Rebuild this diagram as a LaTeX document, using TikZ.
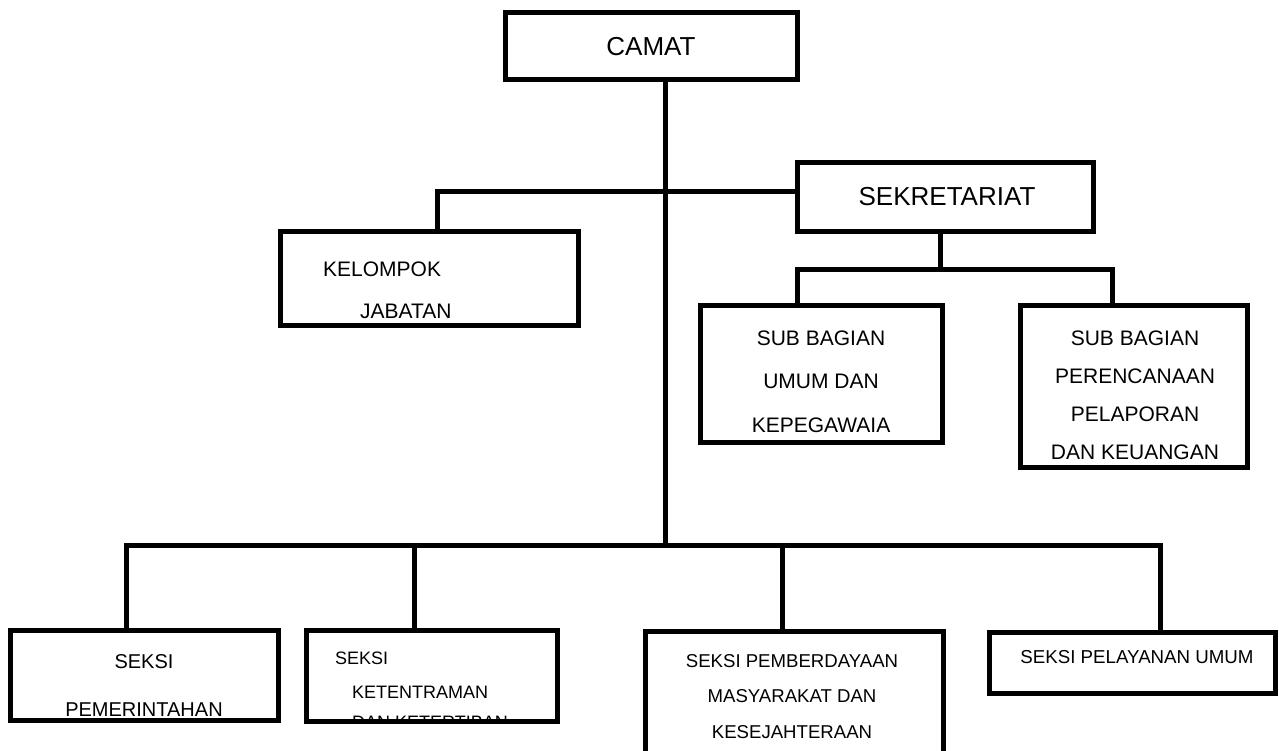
\documentclass[tikz,border=0pt]{standalone}
\usepackage{fontspec}
\setmainfont{Liberation Sans}
\begin{document}
\begin{tikzpicture}[x=1pt,y=-1pt,
  box/.style={draw=black, line width=5pt, rectangle, inner sep=0pt},
  conn/.style={draw=black, line width=5pt, line join=miter},
  txt/.style={inner sep=0pt, text=black},
  big/.style={font=\fontsize{26}{30}\selectfont},
]
\useasboundingbox (0,0) rectangle (1279,751);
\clip (0,0) rectangle (1279,751);
\fill[white] (0,0) rectangle (1279,751);

% boxes
\node[box, minimum width=292pt, minimum height=67pt]  (camat) at (651,46.5) {};
\node[box, minimum width=296pt, minimum height=69pt]  (sek)   at (945,197.5) {};
\node[box, minimum width=298pt, minimum height=93pt]  (kel)   at (429,278.5) {};
\node[box, minimum width=242pt, minimum height=137pt] (sub1)  at (821,373.5) {};
\node[box, minimum width=227pt, minimum height=162pt] (sub2)  at (1133.5,386) {};
\node[box, minimum width=268pt, minimum height=90pt]  (s1)    at (144,675) {};
\node[box, minimum width=251pt, minimum height=91pt]  (s2)    at (431.5,675.5) {};
\node[box, minimum width=298pt, minimum height=149pt] (s3)    at (794,705.5) {};
\node[box, minimum width=286pt, minimum height=61pt]  (s4)    at (1132,662.5) {};

% connector coordinates
\coordinate (tk) at (665,545);
\coordinate (hk) at (437,192);
\coordinate (sd) at (940,270);
\coordinate (sa) at (797,270);
\coordinate (sb) at (1112,270);
\coordinate (b1) at (126,545);
\coordinate (b2) at (414,545);
\coordinate (b3) at (782,545);
\coordinate (b4) at (1160,545);

% connectors
\draw[conn] (tk |- camat.south) -- (tk);
\draw[conn] (hk |- kel.north) -- (hk) -- (hk -| sek.west);
\draw[conn] (sd |- sek.south) -- (sd);
\draw[conn] (sa |- sub1.north) -- (sa) -- (sb) -- (sb |- sub2.north);
\draw[conn] (b1 |- s1.north) -- (b1) -- (b4) -- (b4 |- s4.north);
\draw[conn] (b2) -- (b2 |- s2.north);
\draw[conn] (b3) -- (b3 |- s3.north);

% texts
\node[txt, big] (camatT) at (651,47) {CAMAT};
\node[txt, big] (sekT) at (947,197) {SEKRETARIAT};
\node[txt, anchor=west, font=\fontsize{21}{25}\selectfont] (kelT1) at (323,269) {KELOMPOK};
\node[txt, anchor=west, font=\fontsize{21}{25}\selectfont] (kelT2) at (360,311) {JABATAN};
\node[txt, align=center, font=\fontsize{21}{43.5}\selectfont] (sub1T) at (821,381.5) {SUB BAGIAN\\UMUM DAN\\KEPEGAWAIA};
\node[txt, align=center, font=\fontsize{21}{38}\selectfont] (sub2T) at (1135,395) {SUB BAGIAN\\PERENCANAAN\\PELAPORAN\\DAN KEUANGAN};
\node[txt, align=center, font=\fontsize{20}{48}\selectfont] (s1T) at (144,686) {SEKSI\\PEMERINTAHAN};
\node[txt, anchor=west, font=\fontsize{18}{22}\selectfont] (s2T1) at (335,658) {SEKSI};
\node[txt, anchor=west, font=\fontsize{18}{22}\selectfont] (s2T2) at (352,692) {KETENTRAMAN};
\begin{scope}
\clip (306,630) rectangle (557,718.5);
\node[txt, anchor=west, font=\fontsize{18}{22}\selectfont] (s2T3) at (352,722) {DAN KETERTIBAN};
\end{scope}
\node[txt, align=center, font=\fontsize{18.6}{35.5}\selectfont] (s3T) at (792,696.5) {SEKSI PEMBERDAYAAN\\MASYARAKAT DAN\\KESEJAHTERAAN};
\node[txt, font=\fontsize{18.7}{22}\selectfont] (s4T) at (1137,657) {SEKSI PELAYANAN UMUM};
\end{tikzpicture}
\end{document}
